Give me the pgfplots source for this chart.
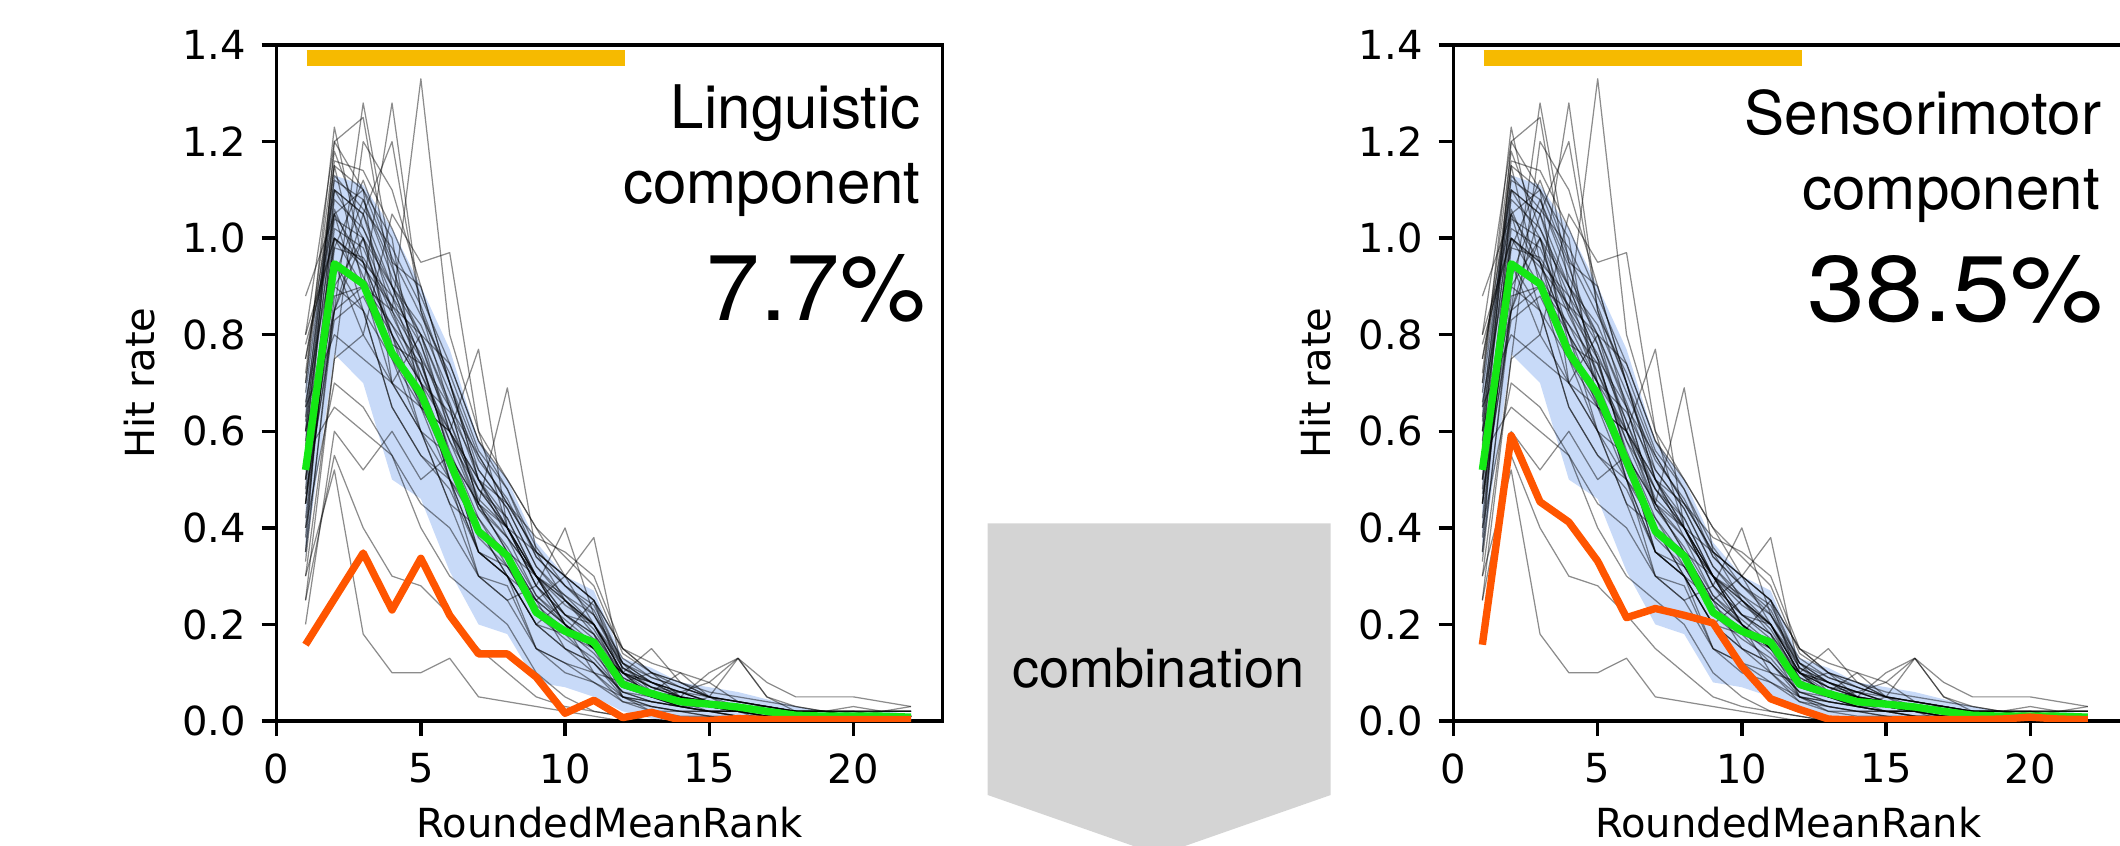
\documentclass[border=0pt]{standalone}
\usepackage{fontspec}
\setmainfont{DejaVu Sans}
\newfontfamily\hv{TeX Gyre Heros}
\usepackage{pgfplots}
\pgfplotsset{compat=1.18}
\definecolor{mygreen}{RGB}{20,232,20}
\definecolor{myorange}{RGB}{255,85,0}
\definecolor{mygold}{RGB}{246,186,0}
\definecolor{myband}{RGB}{200,218,248}
\definecolor{arrowgray}{RGB}{212,212,212}

\tikzset{
  ann/.style={anchor=base east, inner sep=0pt, font=\hv\fontsize{17.1}{20}\selectfont},
  big/.style={anchor=base east, inner sep=0pt, font=\hv\fontsize{26.5}{30}\selectfont},
}

\pgfplotsset{
  grayl/.style={black, opacity=0.45, line width=0.35pt, line join=round},
  panel/.style={
    scale only axis, height=6.76cm, xmin=0, ymin=0, ymax=1.4,
    axis line style={line width=0.95pt},
    major tick style={line width=0.95pt, black},
    major tick length=0.15cm,
    tick align=outside, tick pos=left,
    xtick={0,5,10,15,20}, ytick={0,0.2,0.4,0.6,0.8,1.0,1.2,1.4},
    yticklabel style={/pgf/number format/fixed, /pgf/number format/fixed zerofill, /pgf/number format/precision=1, xshift=-1pt},
    /pgf/number format/assume math mode=true,
    ticklabel style={font=\fontsize{11.4}{13}\selectfont},
    xticklabel style={yshift=-1.5pt},
    label style={font=\fontsize{11.4}{13}\selectfont},
    xlabel={RoundedMeanRank}, ylabel={Hit rate},
    xlabel style={at={(axis description cs:0.5,-0.172)}, anchor=base, inner sep=0pt},
    ylabel style={at={(axis description cs:-0.1842,0.5)}, anchor=base},
  },
}

\newcommand{\gl}[1]{\addplot[grayl] table[x expr=\coordindex+1, y index=0, header=false, row sep=\\] {#1};}

\newcommand{\band}{%
\addplot[fill=myband, draw=none] coordinates {
(1,.70)(2,1.13)(3,1.11)(4,1.02)(5,.90)(6,.77)(7,.58)(8,.50)(9,.37)(10,.30)(11,.27)(12,.13)(13,.11)(14,.08)(15,.07)(16,.06)(17,.045)(18,.03)(19,.02)(20,.02)(21,.02)(22,.015)
(22,0)(21,0)(20,0)(19,0)(18,0)(17,0)(16,0)(15,0)(14,0)(13,.005)(12,.02)(11,.05)(10,.07)(9,.08)(8,.18)(7,.20)(6,.31)(5,.46)(4,.50)(3,.70)(2,.76)(1,.34)
} -- cycle;}

\newcommand{\graylines}{%
\gl{.35\\1.10\\1.05\\.90\\.75\\.55\\.40\\.30\\.20\\.15\\.12\\.05\\.03\\.02\\.02\\.01\\0\\0\\0\\0\\0\\0\\}
\gl{.70\\1.23\\.95\\.80\\.65\\.60\\.45\\.35\\.25\\.20\\.15\\.10\\.05\\.03\\.02\\.02\\.01\\.01\\0\\0\\0\\0\\}
\gl{.50\\.85\\1.28\\.95\\.70\\.50\\.35\\.30\\.20\\.25\\.18\\.05\\.04\\.03\\.05\\.02\\.01\\0\\.01\\0\\0\\.01\\}
\gl{.80\\1.00\\.90\\1.28\\.85\\.65\\.45\\.40\\.28\\.20\\.10\\.08\\.10\\.05\\.03\\.02\\.02\\.01\\.01\\.01\\0\\0\\}
\gl{.45\\.90\\1.00\\.85\\1.33\\.80\\.60\\.40\\.30\\.25\\.20\\.10\\.07\\.06\\.04\\.03\\.02\\.02\\.01\\.01\\.01\\.01\\}
\gl{.60\\1.15\\1.10\\.70\\.60\\.45\\.40\\.35\\.22\\.18\\.25\\.08\\.05\\.04\\.02\\.02\\0\\0\\0\\0\\0\\0\\}
\gl{.25\\.75\\1.20\\1.10\\.90\\.70\\.55\\.45\\.35\\.30\\.20\\.12\\.06\\.05\\.03\\.03\\.02\\.01\\.01\\.02\\.01\\0\\}
\gl{.88\\1.05\\.85\\.65\\.55\\.50\\.30\\.28\\.15\\.10\\.08\\.05\\.02\\.02\\.01\\0\\0\\0\\0\\0\\0\\0\\}
\gl{.40\\.95\\.80\\1.05\\.95\\.97\\.60\\.50\\.40\\.30\\.25\\.15\\.10\\.08\\.05\\.04\\.03\\.02\\.02\\.01\\.01\\.01\\}
\gl{.30\\.52\\.18\\.10\\.10\\.13\\.05\\.04\\.03\\.02\\.01\\0\\0\\0\\0\\0\\0\\0\\0\\0\\0\\0\\}
\gl{.55\\1.00\\.95\\.75\\.60\\.50\\.35\\.30\\.25\\.30\\.38\\.10\\.08\\.06\\.08\\.04\\.03\\.02\\.01\\.01\\.02\\.02\\}
\gl{.65\\.80\\.75\\.70\\.80\\.60\\.77\\.40\\.30\\.20\\.15\\.05\\.04\\.03\\.02\\.01\\.01\\0\\0\\0\\0\\0\\}
\gl{.20\\.60\\.52\\.60\\.50\\.55\\.45\\.69\\.35\\.25\\.20\\.10\\.05\\.06\\.04\\.03\\.02\\.01\\.01\\0\\0\\0\\}
\gl{.75\\1.10\\1.00\\.80\\.70\\.50\\.40\\.30\\.20\\.15\\.10\\.05\\.03\\.02\\.01\\.01\\.01\\0\\0\\0\\0\\0\\}
\gl{.50\\1.20\\1.25\\.90\\.75\\.55\\.35\\.30\\.20\\.18\\.15\\.08\\.05\\.04\\.03\\.02\\.02\\.01\\.01\\.01\\.01\\0\\}
\gl{.40\\.70\\.65\\.55\\.45\\.40\\.30\\.25\\.28\\.40\\.22\\.12\\.08\\.05\\.10\\.13\\.05\\.03\\.02\\.03\\.02\\.03\\}
\gl{.60\\1.05\\1.10\\1.00\\.65\\.60\\.50\\.38\\.30\\.20\\.15\\.08\\.06\\.10\\.05\\.03\\.02\\.02\\.01\\0\\0\\0\\}
\gl{.45\\.95\\.85\\.65\\.55\\.48\\.35\\.30\\.15\\.12\\.10\\.04\\.03\\.02\\.02\\.01\\0\\0\\0\\0\\0\\0\\}
\gl{.70\\1.15\\.90\\.85\\.75\\.65\\.55\\.45\\.38\\.35\\.30\\.15\\.10\\.07\\.05\\.04\\.03\\.02\\.02\\.01\\.01\\.01\\}
\gl{.35\\.85\\1.05\\1.20\\.85\\.70\\.50\\.40\\.30\\.20\\.15\\.10\\.15\\.08\\.05\\.13\\.05\\.02\\.02\\.01\\.01\\.01\\}
\gl{.55\\.65\\.60\\.55\\.40\\.30\\.25\\.20\\.10\\.05\\.02\\.01\\0\\0\\0\\0\\0\\0\\0\\0\\0\\0\\}
\gl{.80\\1.20\\1.10\\.95\\.90\\.70\\.50\\.45\\.35\\.30\\.25\\.12\\.08\\.06\\.04\\.03\\.02\\.02\\.01\\.01\\.01\\.01\\}
\gl{.30\\.75\\.80\\.70\\.60\\.55\\.40\\.35\\.30\\.25\\.20\\.08\\.05\\.04\\.03\\.02\\.02\\.01\\.01\\.01\\0\\0\\}
\gl{.65\\1.10\\1.05\\.85\\.70\\.55\\.45\\.35\\.25\\.20\\.15\\.10\\.06\\.05\\.04\\.03\\.03\\.02\\.02\\.02\\.02\\.02\\}
\gl{.50\\.90\\.85\\.75\\.65\\.55\\.35\\.32\\.22\\.18\\.12\\.06\\.04\\.03\\.02\\.02\\.01\\.01\\0\\0\\0\\0\\}
\gl{.45\\1.00\\.95\\.80\\.60\\.45\\.30\\.25\\.15\\.12\\.08\\.04\\.02\\.01\\.01\\0\\0\\0\\0\\0\\0\\0\\}
\gl{.60\\.85\\1.00\\.90\\.80\\.65\\.45\\.38\\.30\\.22\\.18\\.10\\.07\\.05\\.03\\.02\\.02\\.01\\.01\\.01\\.01\\.01\\}
\gl{.25\\.55\\.40\\.30\\.28\\.22\\.15\\.10\\.05\\.03\\.02\\.01\\0\\0\\0\\0\\0\\0\\0\\0\\0\\0\\}
\gl{.75\\1.05\\.95\\.88\\.72\\.60\\.48\\.40\\.30\\.22\\.20\\.10\\.08\\.05\\.04\\.03\\.02\\.02\\.02\\.02\\.02\\.02\\}
\gl{.55\\.95\\.90\\.70\\.65\\.50\\.42\\.32\\.25\\.15\\.12\\.06\\.05\\.03\\.02\\.02\\.01\\.01\\.01\\0\\0\\0\\}
\gl{.45\\.85\\.90\\.80\\.70\\.60\\.50\\.40\\.35\\.30\\.25\\.15\\.12\\.10\\.08\\.13\\.08\\.05\\.05\\.05\\.04\\.03\\}
\gl{.62\\1.08\\1.02\\.88\\.78\\.62\\.48\\.40\\.28\\.22\\.18\\.09\\.06\\.04\\.03\\.02\\.02\\.01\\.01\\.01\\.01\\.01\\}
\gl{.48\\1.02\\.98\\.84\\.72\\.58\\.44\\.36\\.26\\.20\\.16\\.07\\.05\\.04\\.03\\.02\\.01\\.01\\.01\\0\\0\\0\\}
\gl{.68\\1.12\\1.08\\.92\\.80\\.66\\.50\\.42\\.30\\.24\\.20\\.10\\.07\\.05\\.04\\.03\\.02\\.02\\.01\\.01\\.01\\.01\\}
\gl{.38\\.98\\.96\\.86\\.76\\.62\\.46\\.40\\.28\\.22\\.17\\.08\\.06\\.04\\.03\\.02\\.02\\.01\\.01\\.01\\0\\0\\}
\gl{.58\\1.06\\.92\\.82\\.70\\.64\\.52\\.44\\.32\\.26\\.22\\.11\\.08\\.06\\.04\\.03\\.02\\.02\\.01\\.01\\.01\\.01\\}
\gl{.72\\1.18\\1.02\\.90\\.82\\.68\\.54\\.46\\.34\\.28\\.24\\.12\\.09\\.07\\.05\\.04\\.03\\.02\\.02\\.02\\.01\\.01\\}
\gl{.42\\.92\\1.08\\.94\\.78\\.60\\.44\\.38\\.26\\.21\\.16\\.08\\.05\\.03\\.02\\.02\\.01\\.01\\0\\0\\0\\0\\}
\gl{.52\\1.04\\1.00\\.78\\.74\\.56\\.42\\.34\\.24\\.19\\.14\\.07\\.05\\.03\\.03\\.02\\.01\\.01\\.01\\.01\\0\\0\\}
\gl{.66\\.98\\1.12\\.96\\.84\\.72\\.56\\.48\\.36\\.28\\.22\\.13\\.09\\.07\\.05\\.04\\.03\\.02\\.02\\.02\\.02\\.02\\}
\gl{.33\\.88\\.90\\.82\\.74\\.58\\.48\\.42\\.30\\.26\\.20\\.11\\.07\\.05\\.04\\.03\\.02\\.02\\.01\\.01\\.01\\.01\\}
\gl{.57\\1.13\\1.06\\.98\\.86\\.70\\.52\\.44\\.32\\.25\\.19\\.09\\.06\\.05\\.04\\.03\\.02\\.01\\.01\\.01\\.01\\.01\\}
\gl{.78\\1.00\\.94\\.86\\.80\\.74\\.58\\.50\\.40\\.34\\.28\\.14\\.10\\.08\\.06\\.05\\.04\\.03\\.02\\.02\\.02\\.02\\}
\gl{.47\\.83\\.88\\.76\\.66\\.52\\.38\\.32\\.22\\.17\\.13\\.06\\.04\\.03\\.02\\.01\\.01\\.01\\0\\0\\0\\0\\}
\gl{.63\\1.16\\1.14\\1.02\\.88\\.74\\.58\\.48\\.34\\.28\\.23\\.11\\.08\\.06\\.05\\.04\\.03\\.02\\.02\\.01\\.01\\.01\\}
}

\newcommand{\greenline}{%
\addplot[mygreen, line width=2.1pt, line join=round] coordinates {
(1,.52)(2,.947)(3,.905)(4,.762)(5,.678)(6,.538)(7,.393)(8,.342)(9,.225)(10,.186)(11,.163)(12,.076)(13,.057)(14,.040)(15,.035)(16,.029)(17,.020)(18,.012)(19,.010)(20,.010)(21,.010)(22,.008)};}

\newcommand{\goldbar}{%
\addplot[mygold, line width=4.6pt] coordinates {(1.04,1.3733)(12.08,1.3733)};}

\begin{document}
\begin{tikzpicture}
\useasboundingbox (0,0) rectangle (21.2,8.45);
\clip (0,0) rectangle (21.2,8.45);

% combination arrow
\fill[arrowgray] (9.877,3.217) -- (13.307,3.217) -- (13.307,0.50) -- (11.592,-0.10) -- (9.877,0.50) -- cycle;
\node[anchor=base, inner sep=0pt, font=\hv\fontsize{15.4}{18}\selectfont] at (11.585,1.58) {combination};

% left panel
\begin{axis}[panel, at={(2.767cm,1.24cm)}, anchor=south west, width=6.66cm, xmax=23.1]
\band
\graylines
\greenline
\addplot[myorange, line width=2.1pt, line join=round] coordinates {
(1,.158)(2,.253)(3,.348)(4,.230)(5,.337)(6,.219)(7,.139)(8,.139)(9,.091)(10,.016)(11,.043)(12,.007)(13,.018)(14,.002)(15,.001)(16,.005)(17,.003)(18,.003)(19,.003)(20,.003)(21,.003)(22,.003)};
\goldbar
\node[ann] at (axis description cs:0.9685,0.8766) {Linguistic};
\node[ann] at (axis description cs:0.968,0.7655) {component};
\node[big] at (axis description cs:0.975,0.5926) {\scalebox{1.03}[1]{7.7\%}};
\end{axis}

% right panel
\begin{axis}[panel, at={(14.535cm,1.24cm)}, anchor=south west, width=6.695cm, xmax=23.22]
\band
\graylines
\greenline
\addplot[myorange, line width=2.1pt, line join=round] coordinates {
(1,.158)(2,.591)(3,.454)(4,.412)(5,.331)(6,.214)(7,.233)(8,.219)(9,.203)(10,.113)(11,.046)(12,.024)(13,.004)(14,.002)(15,.002)(16,.003)(17,.003)(18,.003)(19,.004)(20,.008)(21,.004)(22,.003)};
\goldbar
\node[ann] at (axis description cs:0.9682,0.8677) {Sensorimotor};
\node[ann] at (axis description cs:0.9665,0.757) {component};
\node[big] at (axis description cs:0.972,0.591) {\scalebox{1.12}[1]{38.5\%}};
\end{axis}
\end{tikzpicture}
\end{document}
